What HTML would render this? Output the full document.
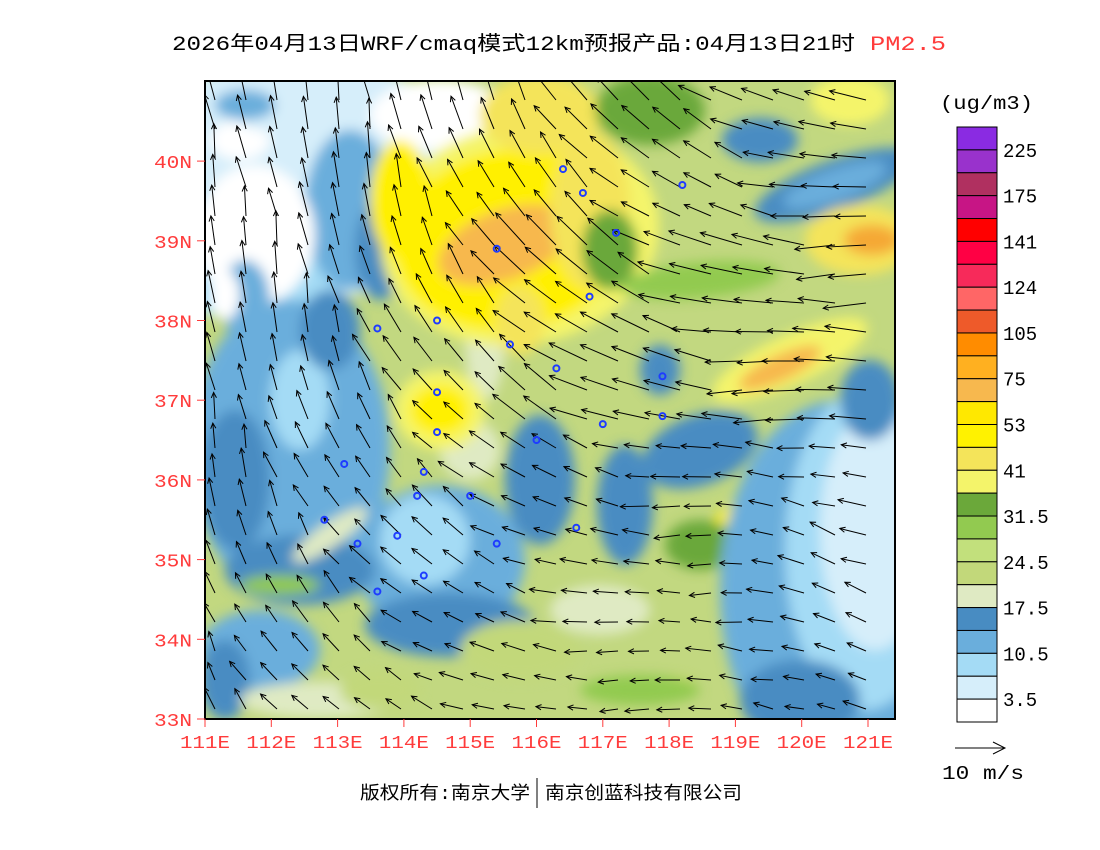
<!DOCTYPE html>
<html><head><meta charset="utf-8">
<style>
html,body{margin:0;padding:0;background:#fff;}
svg{display:block;}
text{font-family:"Liberation Mono","Noto Sans CJK SC",monospace;}
</style></head>
<body>
<svg id="c" width="1100" height="850" viewBox="0 0 1100 850" xmlns="http://www.w3.org/2000/svg">
<defs>
<clipPath id="mapclip"><rect x="205" y="81" width="690" height="638"/></clipPath>
<filter id="bl" x="-30%" y="-30%" width="160%" height="160%"><feGaussianBlur stdDeviation="6"/></filter>
</defs>
<text x="172" y="50" font-size="20" textLength="683" lengthAdjust="spacingAndGlyphs" fill="#000">2026年04月13日WRF/cmaq模式12km预报产品:04月13日21时</text>
<text x="870" y="50" font-size="20" textLength="76" lengthAdjust="spacingAndGlyphs" fill="#ff3b3b">PM2.5</text>
<g id="field" clip-path="url(#mapclip)"></g>
<g id="arrows" clip-path="url(#mapclip)"></g>
<g id="stations"></g>
<rect x="205" y="81" width="690" height="638" fill="none" stroke="#000" stroke-width="2"/>
<g id="axes"></g>
<g id="cbar"></g>
<text x="940" y="109" font-size="19" textLength="93" lengthAdjust="spacingAndGlyphs">(ug/m3)</text>
<g>
<line x1="955" y1="748" x2="1005" y2="748" stroke="#000" stroke-width="1"/>
<polyline points="993,742 1005,748 993,754" fill="none" stroke="#000"/>
<text x="942" y="779" font-size="19" textLength="82" lengthAdjust="spacingAndGlyphs">10 m/s</text>
</g>
<text x="360" y="799" font-size="18" textLength="170" lengthAdjust="spacingAndGlyphs">版权所有:南京大学</text>
<line x1="537" y1="778" x2="537" y2="808" stroke="#000"/>
<text x="545" y="799" font-size="18" textLength="197" lengthAdjust="spacingAndGlyphs">南京创蓝科技有限公司</text>
</svg>
<script>
const NS="http://www.w3.org/2000/svg";
// colorbar data
const levelLabels=["225","175","141","124","105","75","53","41","31.5","24.5","17.5","10.5","3.5"];
const levelColors=["#8a2be2","#9932cc","#b03060","#c71585","#ff0000","#ff0044","#f72a5a","#ff6666","#ee5a2a","#ff8c00","#ffb020","#f7b84e","#ffe800","#fff200","#f4e45a","#f4f46a","#6ba83a","#92ca50","#c2e07c","#c2d87a","#dfeac3","#488cc2","#6aaedc","#a4dbf5","#d6eefa","#ffffff"];
// axis ticks
const lonTicks=[111,112,113,114,115,116,117,118,119,120,121];
const latTicks=[33,34,35,36,37,38,39,40];
function xOf(lon){return 205+(lon-111)*66.3;}
function yOf(lat){return 719-(lat-33)*79.7;}
function mk(tag,attrs,parent){const e=document.createElementNS(NS,tag);for(const k in attrs)e.setAttribute(k,attrs[k]);parent.appendChild(e);return e;}
// colorbar
const cb=document.getElementById('cbar');
const cbH=595/levelColors.length;
levelColors.forEach((c,i)=>{
  const r=mk('rect',{x:957,y:127+i*cbH,width:40,height:cbH,fill:c,stroke:'#000','stroke-width':1},cb);
  
  
});
levelLabels.forEach((t,i)=>{
  const tx=mk('text',{x:1003,y:127+(2*i+1)*cbH+7,'font-size':19},cb);
  tx.textContent=t;
  
  
});
// axes
const ax=document.getElementById('axes');
lonTicks.forEach(l=>{
  const x=xOf(l);
  mk('line',{x1:x,y1:719,x2:x,y2:727,stroke:'#ff3b3b'},ax);
  const t=mk('text',{x:x,y:748,'font-size':18,'text-anchor':'middle',fill:'#ff3b3b',textLength:50,lengthAdjust:'spacingAndGlyphs'},ax);
  t.textContent=l+"E";
  
  
});
latTicks.forEach(l=>{
  const y=yOf(l);
  mk('line',{x1:197,y1:y,x2:205,y2:y,stroke:'#ff3b3b'},ax);
  const t=mk('text',{x:192,y:y+7,'font-size':18,'text-anchor':'end',fill:'#ff3b3b',textLength:38,lengthAdjust:'spacingAndGlyphs'},ax);
  t.textContent=l+"N";
  
  
});
// field blobs: [cx,cy,rx,ry,rot,color]
const C={w:"#ffffff",vlb:"#d6eefa",lb:"#a4dbf5",mb:"#6aaedc",db:"#488cc2",pale:"#dfeac3",lg:"#c2d87a",g:"#92ca50",dg:"#6ba83a",ly:"#f4f46a",y2:"#f4e45a",y:"#fff000",lo:"#f7b84e",o:"#f5a836"};
const blobs=[
[300,180,190,120,0,"vlb"],[250,250,110,70,0,"lb"],[350,210,45,80,0,"mb"],[380,250,25,50,0,"db"],
[255,235,60,70,0,"w"],[440,115,70,35,0,"w"],[240,140,30,20,0,"w"],[300,110,70,25,0,"vlb"],[245,105,30,15,0,"mb"],
[290,450,100,150,0,"mb"],[235,480,35,70,0,"db"],[300,400,30,50,0,"lb"],[330,330,30,40,0,"db"],[245,300,25,40,0,"mb"],[225,295,15,25,0,"w"],
[440,560,85,75,0,"mb"],[425,540,45,45,0,"lb"],[450,625,85,32,0,"db"],[300,570,75,35,0,"db"],[260,650,60,40,0,"mb"],[225,680,25,40,0,"db"],
[330,535,45,12,-35,"pale"],[470,450,30,30,0,"pale"],[485,340,20,60,0,"pale"],
[320,700,80,18,0,"pale"],[280,585,40,10,0,"g"],
[520,235,140,110,-10,"ly"],[510,240,115,90,-10,"y"],[505,245,70,35,-20,"lo"],[540,115,60,40,0,"y2"],[590,210,40,80,0,"y2"],[520,320,25,35,0,"y2"],[400,200,30,60,0,"y"],
[440,410,45,40,0,"ly"],[440,410,30,25,0,"y"],
[650,110,55,35,0,"dg"],[610,250,28,40,0,"dg"],[700,280,80,18,-5,"g"],
[760,140,38,22,0,"db"],[835,185,85,25,-20,"db"],[835,185,55,15,-20,"mb"],
[860,240,55,35,0,"y2"],[872,240,28,15,0,"o"],[850,100,40,25,0,"ly"],
[790,360,85,25,-25,"ly"],[780,368,45,13,-25,"lo"],[815,450,22,40,0,"y"],[812,462,10,10,0,"lo"],[745,525,30,22,0,"y"],
[655,685,40,9,0,"y2"],[640,690,60,15,0,"g"],[700,545,35,25,0,"dg"],
[540,480,35,65,0,"db"],[625,505,28,60,0,"db"],[700,450,60,35,-20,"db"],[660,370,20,25,0,"db"],
[600,610,50,25,0,"pale"],[520,650,60,30,0,"lg"],[380,690,40,20,0,"lg"],
[840,590,120,190,0,"mb"],[865,550,80,160,0,"lb"],[875,530,55,120,0,"vlb"],[800,700,60,40,0,"db"],[870,400,30,40,0,"db"]
];
const fld=document.getElementById('field');
mk('rect',{x:205,y:81,width:690,height:638,fill:"#c2d880"},fld);
const bg=mk('g',{filter:'url(#bl)'},fld);
blobs.forEach(b=>{
  const e=mk('ellipse',{cx:b[0],cy:b[1],rx:b[2],ry:b[3],fill:C[b[5]],transform:`rotate(${b[4]} ${b[0]} ${b[1]})`},bg);
  
  
});
// wind arrows
const ag=document.getElementById('arrows');
let k=0;
for(let y=100;y<719;y+=29){
  for(let x=215;x<895;x+=31){
    k++;
    const fx=(x-205)/690, fy=(y-81)/638;
    let t=Math.min(1,Math.max(0,fx*1.4+fy*0.7-0.45));
    let ang=-100-80*t;
    const sea=Math.min(1,Math.max(0,(fx-0.72)*5))*Math.min(1,Math.max(0,(fy-0.5)*5));
    if(sea>0) ang=(1-sea)*ang+sea*(200-360);
    ang+=((k*37)%17-8);
    let len=18+ (1-fy)*14 + ((k*13)%7);
    if(fx>0.45&&fy>0.25&&fy<0.55) len+=10;
    const r=ang*Math.PI/180;
    const x2=x+Math.cos(r)*len, y2=y+Math.sin(r)*len;
    const p=mk('g',{},ag);
    
    
    mk('line',{x1:x,y1:y,x2:x2,y2:y2,stroke:'#000','stroke-width':1},p);
    const h=6,a1=r+Math.PI-0.45,a2=r+Math.PI+0.45;
    mk('polyline',{points:`${x2+Math.cos(a1)*h},${y2+Math.sin(a1)*h} ${x2},${y2} ${x2+Math.cos(a2)*h},${y2+Math.sin(a2)*h}`,fill:'none',stroke:'#000','stroke-width':1},p);
  }
}
// stations (lon,lat)
const stLon=[116.4,116.7,117.2,118.2,115.4,116.8,114.5,113.6,115.6,116.3,117.9,114.5,114.5,116.0,117.0,117.9,114.3,113.1,112.8,115.0,114.2,113.9,115.4,116.6,113.3,114.3,113.6];
const stLat=[39.9,39.6,39.1,39.7,38.9,38.3,38.0,37.9,37.7,37.4,37.3,37.1,36.6,36.5,36.7,36.8,36.1,36.2,35.5,35.8,35.8,35.3,35.2,35.4,35.2,34.8,34.6];
const sg=document.getElementById('stations');
stLon.forEach((l,i)=>{
  const c=mk('circle',{cx:xOf(l),cy:yOf(stLat[i]),r:3,fill:'none',stroke:'#1e3cff','stroke-width':2},sg);
  
  
});
</script>
</body></html>
